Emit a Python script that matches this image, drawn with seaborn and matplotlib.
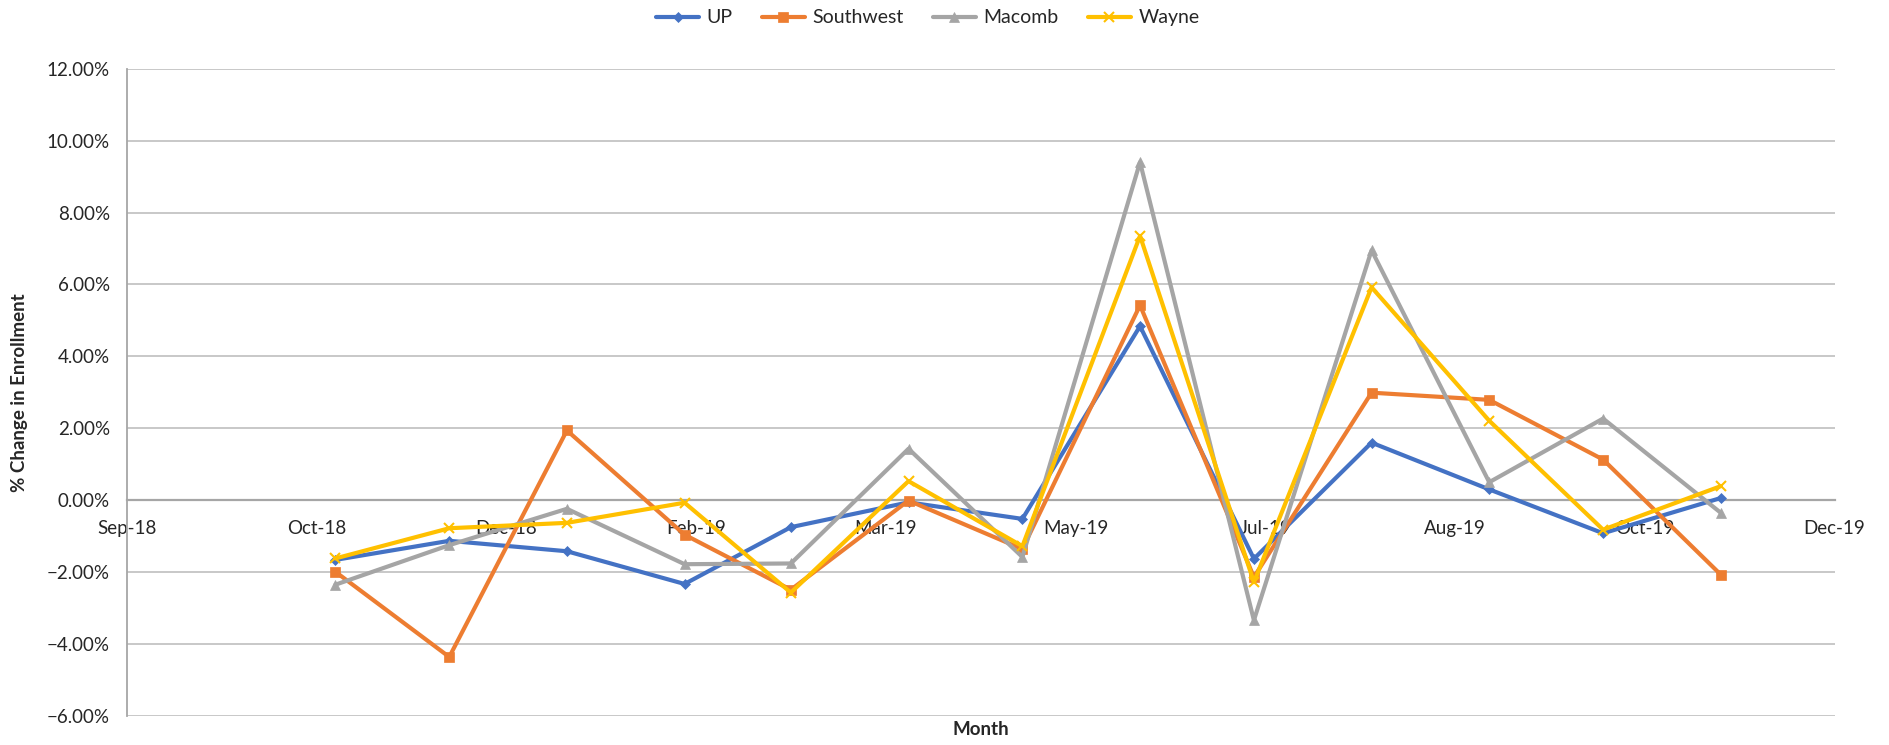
import pandas as pd
import seaborn as sns
import matplotlib.pyplot as plt
import matplotlib.dates as mdates
from matplotlib.ticker import PercentFormatter, MultipleLocator

# monthly % change in enrollment (first of each month, Nov-18 .. Nov-19)
months = pd.date_range("2018-11-01", "2019-11-01", freq="MS")
up = [-1.66, -1.13, -1.42, -2.33, -0.75, -0.06, -0.52, 4.84, -1.63, 1.60, 0.30, -0.92, 0.06]
southwest = [-1.99, -4.36, 1.94, -0.96, -2.49, -0.01, -1.36, 5.42, -2.14, 2.99, 2.79, 1.13, -2.07]
macomb = [-2.35, -1.25, -0.24, -1.78, -1.76, 1.43, -1.58, 9.40, -3.34, 6.95, 0.50, 2.27, -0.35]
wayne = [-1.62, -0.78, -0.63, -0.07, -2.57, 0.53, -1.28, 7.35, -2.28, 5.92, 2.21, -0.82, 0.39]

series = ["UP", "Southwest", "Macomb", "Wayne"]
values = [up, southwest, macomb, wayne]
colors = ["#4472C4", "#ED7D31", "#A5A5A5", "#FFC000"]
markers = ["D", "s", "^", "x"]
msizes = [5, 6.5, 7, 7]

# Excel-style date axis: 50 day major unit
x_min = pd.Timestamp("2018-09-07")
x_max = pd.Timestamp("2019-12-01")
tick_dates = pd.date_range(x_min, x_max, freq="50D")

sns.set_style("white")
plt.rcParams['font.family'] = ['Lato', 'DejaVu Sans']

fig = plt.figure(figsize=(18.9, 7.45), dpi=100)
ax = fig.add_axes([0.067, 0.039, 0.9037, 0.8688])

for name, vals, c, m, ms in zip(series, values, colors, markers, msizes):
    sns.lineplot(x=months, y=vals, ax=ax, color=c, marker=m, markersize=ms,
                 markeredgecolor=c, markeredgewidth=1.5 if m == "x" else 0.5,
                 linewidth=3, label=name)

ax.set_ylim(-6, 12)
ax.set_xlim(x_min, x_max)
ax.yaxis.set_major_locator(MultipleLocator(2))
ax.yaxis.set_major_formatter(PercentFormatter(decimals=2))
ax.set_xticks(tick_dates)
ax.xaxis.set_major_formatter(mdates.DateFormatter("%b-%y"))

ax.grid(axis='y', color='#BFBFBF', linewidth=1.2)
ax.grid(axis='x', visible=False)
ax.set_axisbelow(True)

for s in ['top', 'right']:
    ax.spines[s].set_visible(False)
ax.spines['left'].set_color('#A6A6A6')
ax.spines['left'].set_linewidth(1.3)
ax.spines['bottom'].set_position(('data', 0))
ax.spines['bottom'].set_color('#A6A6A6')
ax.spines['bottom'].set_linewidth(1.6)
ax.spines['bottom'].set_zorder(1)

ax.tick_params(axis='x', direction='out', length=6, width=1.2, color='#A6A6A6',
               labelsize=13.5, pad=8)
ax.tick_params(axis='y', direction='out', length=6, width=1.2, color='#BFBFBF',
               labelsize=13.5, pad=6)

ax.set_ylabel("% Change in Enrollment", fontsize=13.5, fontweight='bold')
ax.yaxis.set_label_coords(-0.058, 0.5)
ax.set_xlabel("Month", fontsize=13.5, fontweight='bold')
ax.xaxis.set_label_coords(0.5, -0.008)

ax.get_legend().remove()
handles, labels = ax.get_legend_handles_labels()
fig.legend(handles, labels, loc='center', bbox_to_anchor=(0.491, 0.976), ncol=4,
           frameon=False, fontsize=14, handlelength=2.2, columnspacing=1.5,
           handletextpad=0.4)

fig.savefig("out.png", dpi=100)
